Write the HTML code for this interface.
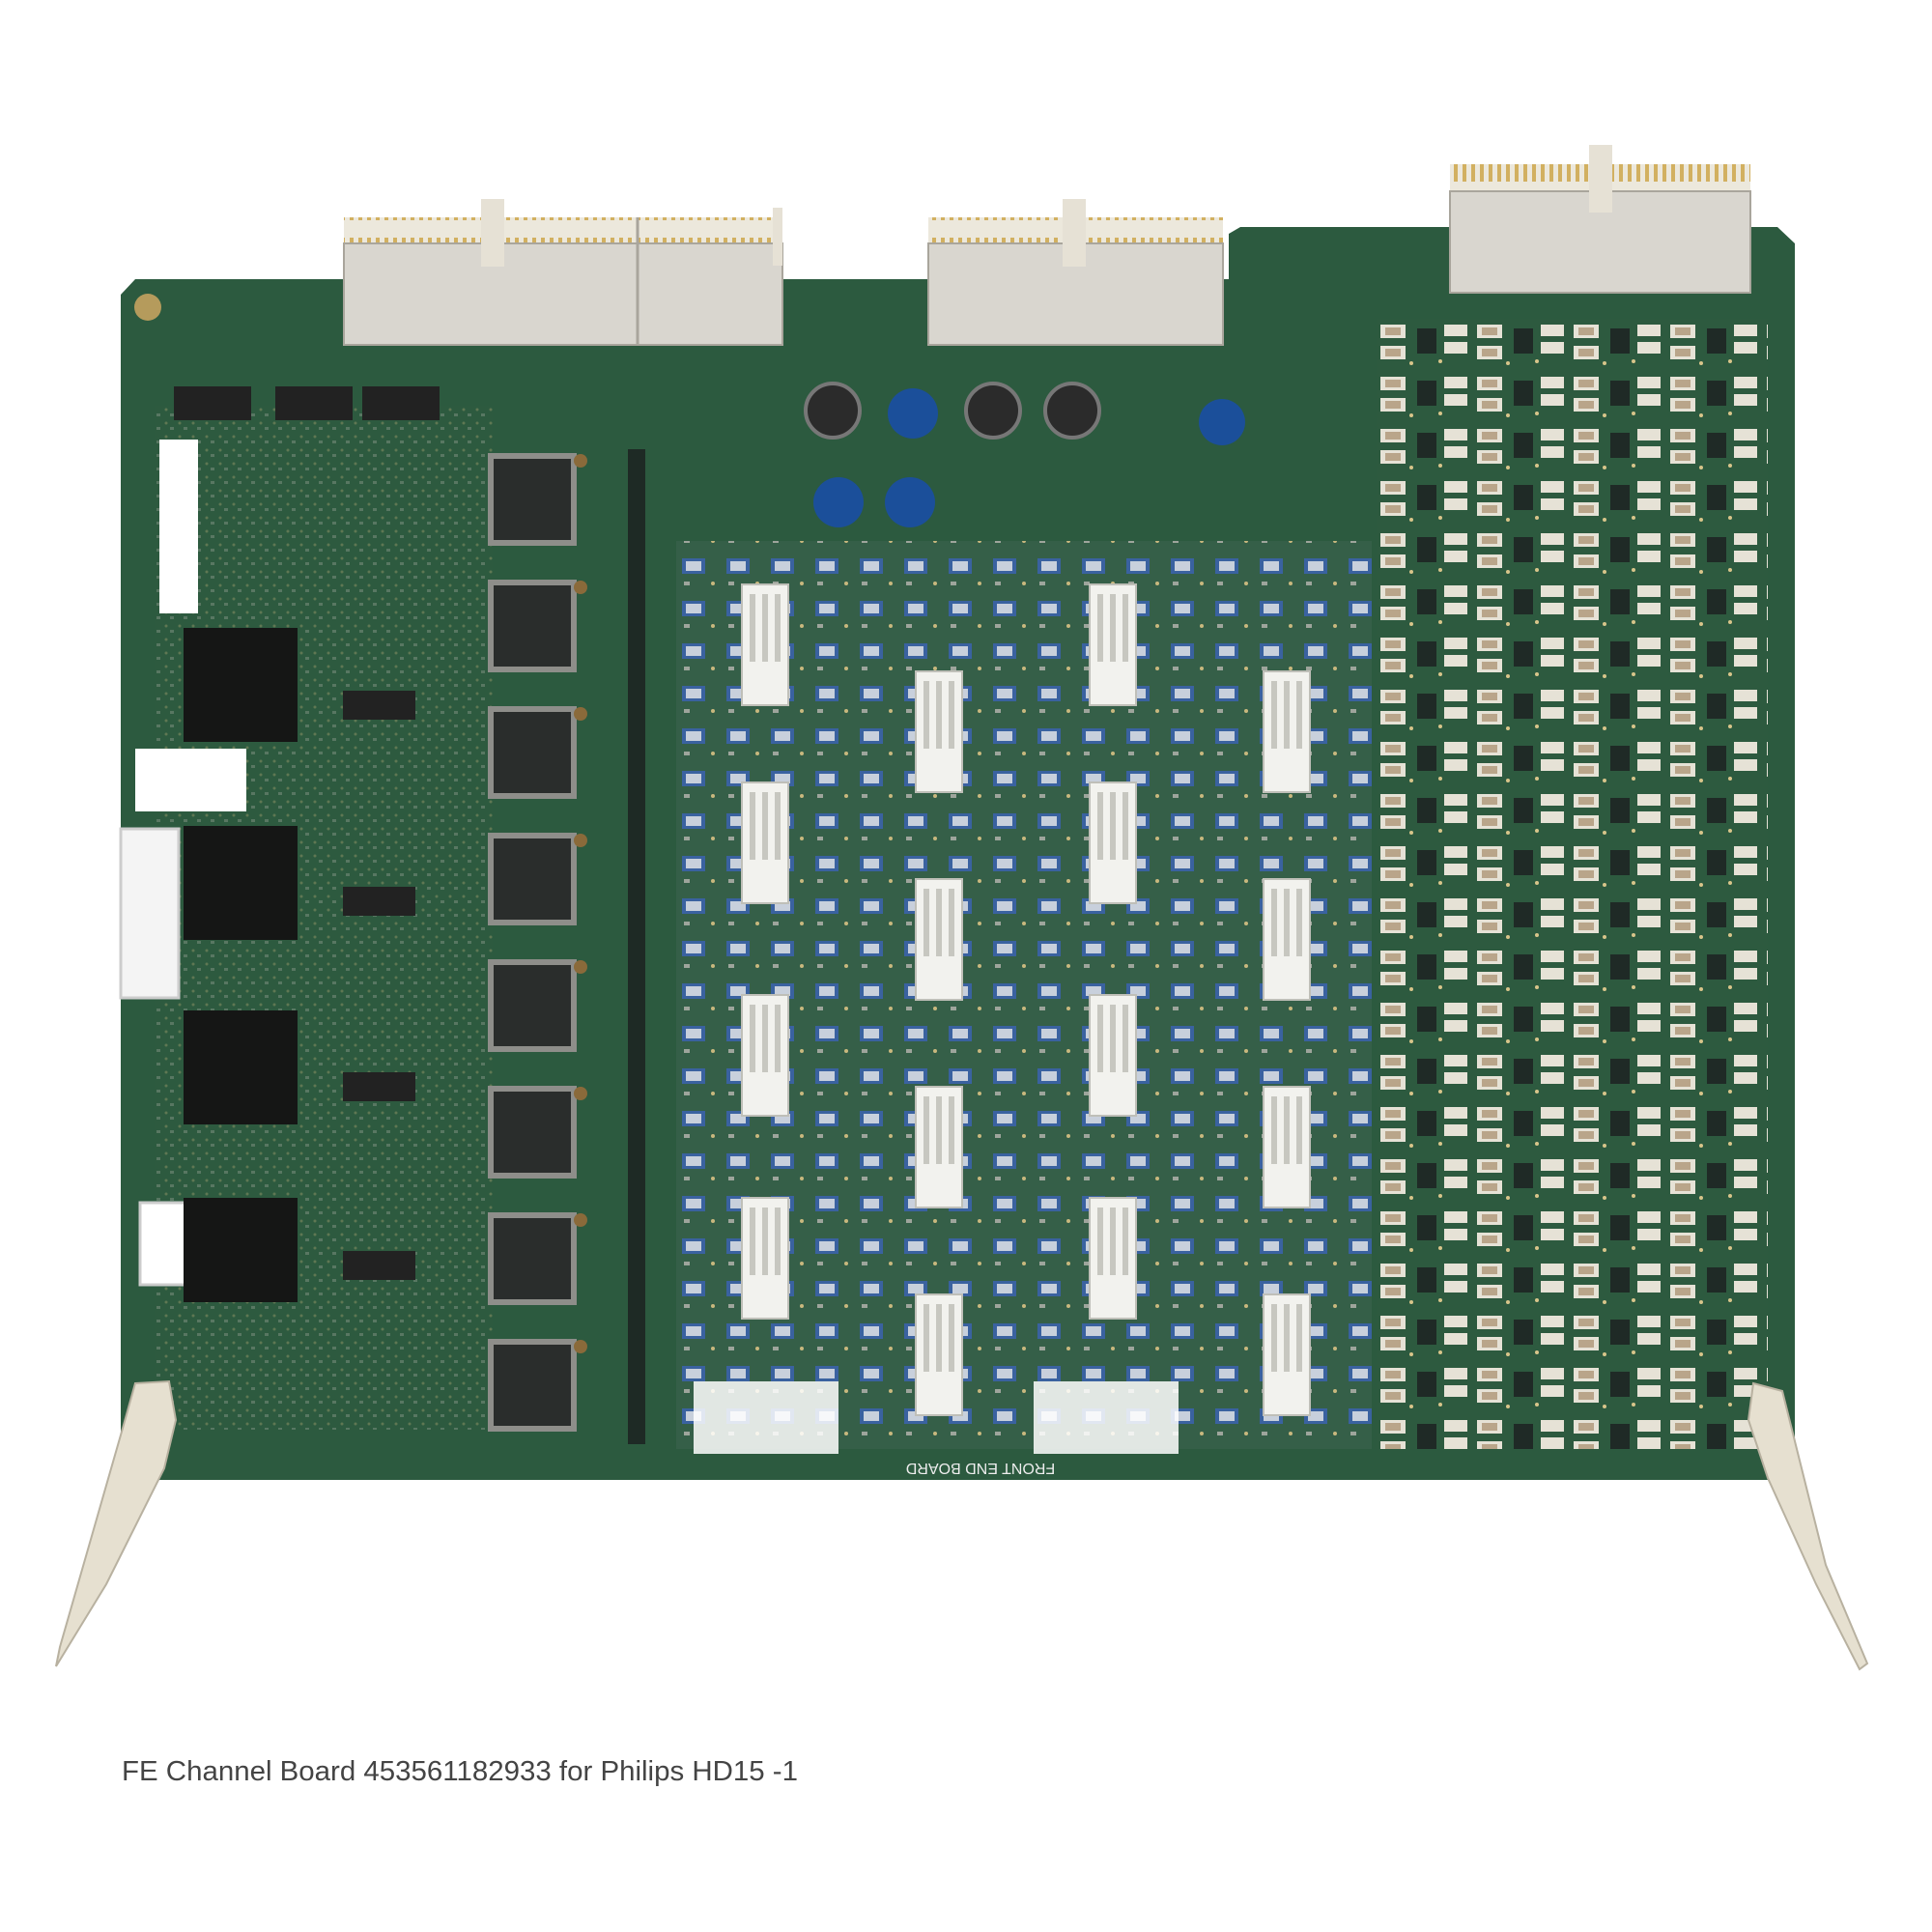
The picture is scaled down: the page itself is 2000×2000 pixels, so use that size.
<!DOCTYPE html>
<html><head><meta charset="utf-8"><style>
html,body{margin:0;padding:0;background:#fff;width:2000px;height:2000px;overflow:hidden}
</style></head><body>
<svg width="2000" height="2000" viewBox="0 0 2000 2000" xmlns="http://www.w3.org/2000/svg">
<defs>
<pattern id="dense" x="1425" y="330" width="100" height="54" patternUnits="userSpaceOnUse">
<rect width="100" height="54" fill="#2d5a3f"/>
<rect x="4" y="6" width="26" height="14" fill="#e6e2d6"/><rect x="9" y="9" width="16" height="8" fill="#b9a58a"/>
<rect x="4" y="28" width="26" height="14" fill="#e6e2d6"/><rect x="9" y="31" width="16" height="8" fill="#b9a58a"/>
<rect x="42" y="10" width="20" height="26" fill="#1f2a26"/>
<rect x="70" y="6" width="24" height="12" fill="#e6e2d6"/><rect x="70" y="24" width="24" height="12" fill="#e6e2d6"/>
<circle cx="36" cy="46" r="2" fill="#d8c58a"/><circle cx="66" cy="44" r="2" fill="#d8c58a"/>
</pattern>
<pattern id="blue" x="700" y="570" width="46" height="44" patternUnits="userSpaceOnUse">
<rect width="46" height="44" fill="#355f48"/>
<rect x="6" y="8" width="24" height="16" fill="#3a62a0"/><rect x="10" y="11" width="16" height="10" fill="#c8d0dc"/>
<circle cx="38" cy="34" r="2" fill="#c9b87e"/><rect x="8" y="32" width="6" height="4" fill="#9ea59c"/>
</pattern>
<pattern id="dots" width="14" height="14" patternUnits="userSpaceOnUse">
<rect width="14" height="14" fill="#2e5a40"/><circle cx="4" cy="4" r="1.5" fill="#bfae78"/><rect x="8" y="8" width="4" height="3" fill="#a9aea4"/>
</pattern>
<pattern id="pins" width="9" height="40" patternUnits="userSpaceOnUse">
<rect width="9" height="40" fill="#ece8dc"/><rect x="2" y="6" width="4" height="22" fill="#d2b060"/>
</pattern>
<g id="hs"><rect width="48" height="125" fill="#f2f2ee" stroke="#bfbfb8" stroke-width="2"/><rect x="8" y="10" width="6" height="70" fill="#c7c7c0"/><rect x="21" y="10" width="6" height="70" fill="#c7c7c0"/><rect x="34" y="10" width="6" height="70" fill="#c7c7c0"/></g>
<g id="max"><rect width="92" height="96" fill="#8e8e8a"/><rect x="6" y="6" width="80" height="84" fill="#2a2d2c"/><circle cx="96" cy="8" r="7" fill="#8a6a3a"/></g>
</defs>

<path d="M140 289 L1272 289 L1272 242 L1284 235 L1840 235 L1858 252 L1858 1532 L125 1532 L125 305 Z" fill="#2c5a3f"/>

<rect x="356" y="225" width="454" height="30" fill="url(#pins)"/>
<rect x="356" y="252" width="454" height="105" fill="#d9d6cf" stroke="#a9a59c" stroke-width="2"/>
<line x1="660" y1="225" x2="660" y2="357" stroke="#a9a59c" stroke-width="3"/>
<rect x="498" y="206" width="24" height="70" fill="#e6e1d5"/>
<rect x="800" y="215" width="10" height="60" fill="#e6e1d5"/>
<rect x="961" y="225" width="305" height="30" fill="url(#pins)"/>
<rect x="961" y="252" width="305" height="105" fill="#d9d6cf" stroke="#a9a59c" stroke-width="2"/>
<rect x="1100" y="206" width="24" height="70" fill="#e6e1d5"/>
<rect x="1501" y="170" width="311" height="30" fill="url(#pins)"/>
<rect x="1501" y="198" width="311" height="105" fill="#d9d6cf" stroke="#a9a59c" stroke-width="2"/>
<rect x="1645" y="150" width="24" height="70" fill="#e6e1d5"/>

<rect x="160" y="420" width="350" height="1060" fill="url(#dots)" opacity="0.35"/>
<rect x="180" y="400" width="80" height="35" fill="#222"/><rect x="285" y="400" width="80" height="35" fill="#222"/><rect x="375" y="400" width="80" height="35" fill="#222"/>
<rect x="165" y="455" width="40" height="180" fill="#fff"/>
<rect x="140" y="775" width="115" height="65" fill="#fff"/>
<rect x="125" y="858" width="60" height="175" fill="#f4f4f4" stroke="#ccc" stroke-width="3"/>
<rect x="145" y="1245" width="160" height="85" fill="#fff" stroke="#ccc" stroke-width="3"/>
<rect x="190" y="650" width="118" height="118" fill="#151615"/>
<rect x="190" y="855" width="118" height="118" fill="#151615"/>
<rect x="190" y="1046" width="118" height="118" fill="#151615"/>
<rect x="190" y="1240" width="118" height="108" fill="#151615"/>
<rect x="355" y="715" width="75" height="30" fill="#222"/><rect x="355" y="918" width="75" height="30" fill="#222"/><rect x="355" y="1110" width="75" height="30" fill="#222"/><rect x="355" y="1295" width="75" height="30" fill="#222"/>
<circle cx="153" cy="318" r="14" fill="#b59b5c"/>
<use href="#max" x="505" y="469"/><use href="#max" x="505" y="600"/><use href="#max" x="505" y="731"/><use href="#max" x="505" y="862"/>
<use href="#max" x="505" y="993"/><use href="#max" x="505" y="1124"/><use href="#max" x="505" y="1255"/><use href="#max" x="505" y="1386"/>
<rect x="650" y="465" width="18" height="1030" fill="#1e2a25"/>

<rect x="700" y="560" width="720" height="940" fill="url(#blue)"/>
<circle cx="862" cy="425" r="28" fill="#2b2b2b" stroke="#777" stroke-width="4"/>
<circle cx="945" cy="428" r="26" fill="#1b4f9a"/><circle cx="1028" cy="425" r="28" fill="#2b2b2b" stroke="#777" stroke-width="4"/>
<circle cx="1110" cy="425" r="28" fill="#2b2b2b" stroke="#777" stroke-width="4"/><circle cx="1265" cy="437" r="24" fill="#1b4f9a"/>
<circle cx="868" cy="520" r="26" fill="#1b4f9a"/><circle cx="942" cy="520" r="26" fill="#1b4f9a"/>
<g>
<use href="#hs" x="768" y="605"/><use href="#hs" x="768" y="810"/><use href="#hs" x="768" y="1030"/><use href="#hs" x="768" y="1240"/>
<use href="#hs" x="948" y="695"/><use href="#hs" x="948" y="910"/><use href="#hs" x="948" y="1125"/><use href="#hs" x="948" y="1340"/>
<use href="#hs" x="1128" y="605"/><use href="#hs" x="1128" y="810"/><use href="#hs" x="1128" y="1030"/><use href="#hs" x="1128" y="1240"/>
<use href="#hs" x="1308" y="695"/><use href="#hs" x="1308" y="910"/><use href="#hs" x="1308" y="1125"/><use href="#hs" x="1308" y="1340"/>
</g>
<rect x="718" y="1430" width="150" height="75" fill="#fff" opacity="0.85"/><rect x="1070" y="1430" width="150" height="75" fill="#fff" opacity="0.85"/>
<text x="1015" y="1525" font-family="Liberation Sans, sans-serif" font-size="16" fill="#eee" text-anchor="middle" transform="rotate(180 1015 1520)">FRONT END BOARD</text>

<rect x="1425" y="330" width="405" height="1170" fill="url(#dense)"/>

<path d="M140 1432 L175 1430 L182 1470 L170 1520 L110 1640 L58 1725 L62 1705 L95 1590 L128 1475 Z" fill="#e6e0d0" stroke="#b8b1a0" stroke-width="2"/>
<path d="M1815 1432 L1845 1440 L1865 1520 L1890 1620 L1933 1722 L1925 1728 L1880 1640 L1830 1530 L1810 1470 Z" fill="#e6e0d0" stroke="#b8b1a0" stroke-width="2"/>

<text x="126" y="1843" font-family="Liberation Sans, sans-serif" font-size="29" fill="#444" textLength="700" lengthAdjust="spacingAndGlyphs">FE Channel Board 453561182933 for Philips HD15 -1</text>
</svg>
</body></html>
